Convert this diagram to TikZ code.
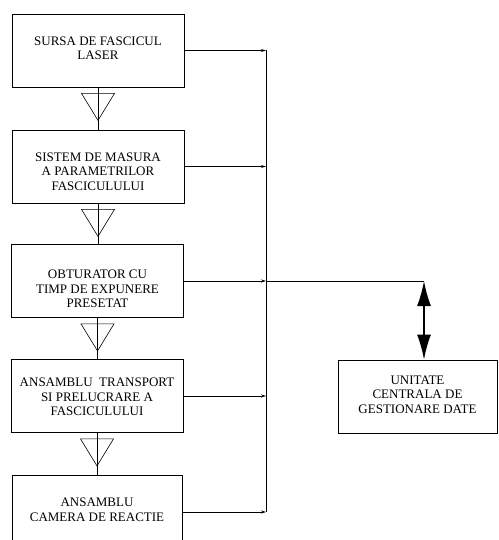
\documentclass[tikz,border=0pt]{standalone}
\usepackage{fontspec}
\setmainfont{Liberation Serif}
\usetikzlibrary{arrows.meta,calc}
\begin{document}
\begin{tikzpicture}[x=1pt,y=-1pt,
  blk/.style={draw,line width=0.8pt,align=center,inner sep=0pt,
    minimum width=172pt,minimum height=73pt,font=\fontsize{13}{14.5}\selectfont},
  txt/.style={align=center,inner sep=0pt,font=\fontsize{13}{14.5}\selectfont},
  ln/.style={line width=0.8pt},
  sarr/.style={line width=0.8pt,-{Stealth[length=5pt,width=3pt]}},
  darr/.style={line width=1.5pt,{Latex[length=25pt,width=14pt]}-{Latex[length=25pt,width=14pt]}}]
\useasboundingbox (0,0) rectangle (498,540);
\node[blk,label={[txt,yshift=2pt]center:SURSA DE FASCICUL\\LASER}] (b1) at (98,50.5) {};
\node[blk,label={[txt,yshift=-5pt]center:SISTEM DE MASURA\\A PARAMETRILOR\\FASCICULULUI}] (b2) at (98,166.5) {};
\node[blk,label={[txt,yshift=-8pt]center:OBTURATOR CU\\TIMP DE EXPUNERE\\PRESETAT}] (b3) at (97.5,281) {};
\node[blk,label={[txt,yshift=-1pt]center:ANSAMBLU\ \ TRANSPORT\\SI PRELUCRARE A\\FASCICULULUI}] (b4) at (97,396) {};
\node[txt] (b5) at (97,510) {ANSAMBLU\\CAMERA DE REACTIE};
\draw[ln] (12,541) -- (12,475) -- (182,475) -- (182,541);
\coordinate (b5n) at (97,475);
\coordinate (b5e) at (182,512);
\node[blk,minimum width=159pt,label={[txt,yshift=2pt]center:UNITATE\\CENTRALA DE\\GESTIONARE DATE}] (ucgd) at (417.5,396.5) {};
% bus
\coordinate (bus1) at (266,50.5);
\coordinate (bus5) at (266,512);
\draw[ln] (bus1) -- (bus5);
\draw[sarr] (b1.east) -- (b1.east -| bus1);
\draw[sarr] (b2.east) -- (b2.east -| bus1);
\draw[sarr] (b3.east) -- (b3.east -| bus1);
\draw[sarr] (b4.east) -- (b4.east -| bus1);
\draw[sarr] (b5e) -- (bus5);
\coordinate (corner) at (424,281);
\draw[ln] (b3.east -| bus1) -- (corner);
\draw[darr] (corner) -- (corner |- ucgd.north);
% flow triangles
\foreach \u/\l in {b1.south/b2.north,b2.south/b3.north,b3.south/b4.north,b4.south/b5n}{
  \draw[ln] (\u) -- (\u |- \l);
  \draw[line width=0.6pt] ($(\u)+(-16.5,6)$) -- ($(\u)+(16.5,6)$) -- ($(\u)+(0,33)$) -- cycle;
}
\end{tikzpicture}
\end{document}
